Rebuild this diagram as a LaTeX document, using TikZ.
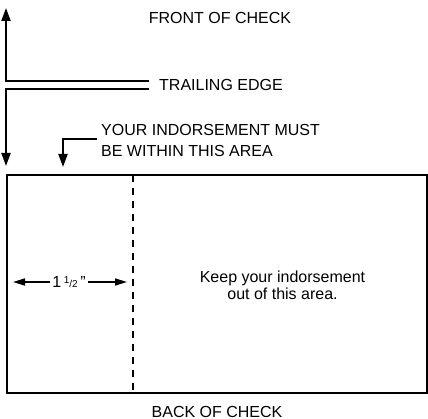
\documentclass[tikz,border=0pt]{standalone}
\usepackage{fontspec}
\setmainfont{Liberation Sans}
\usetikzlibrary{arrows.meta}
\tikzset{
  heavy/.style={line width=2pt},
  bigarrow/.style={line width=2pt,-{Triangle[length=13pt,width=9pt]}},
  dimarrow/.style={line width=1.6pt,-{Triangle[length=12pt,width=7pt]}},
  lbl/.style={font=\fontsize{16}{21}\selectfont, inner sep=0pt},
  dashline/.style={line width=1.5pt, dash pattern=on 7pt off 6pt},
}
\begin{document}
\begin{tikzpicture}[x=1pt,y=-1pt]
\useasboundingbox (0,0) rectangle (428,419);

% labels
\node[lbl, anchor=base] (front) at (220,23.5) {FRONT OF CHECK};
\node[lbl, anchor=base west] (trail) at (159,90.5) {TRAILING EDGE};
\node[lbl, anchor=base west, align=left, font=\fontsize{16}{21}\selectfont] (must) at (101,157) {YOUR INDORSEMENT MUST\\BE WITHIN THIS AREA};
\node[lbl, anchor=base] (back) at (217,417) {BACK OF CHECK};

% trailing edge arrows
\coordinate (edgeTop) at (149,81);
\coordinate (edgeBot) at (149,89);
\coordinate (upCorner) at (6,81);
\coordinate (upTip) at (6,8);
\coordinate (downCorner) at (6,89);
\coordinate (downTip) at (6,166);
\draw[bigarrow] (edgeTop) -- (upCorner) -- (upTip);
\draw[bigarrow] (edgeBot) -- (downCorner) -- (downTip);

% leader to indorsement area
\coordinate (leadStart) at (97,139);
\coordinate (leadCorner) at (63,139);
\coordinate (leadTip) at (63,167);
\draw[bigarrow] (leadStart) -- (leadCorner) -- (leadTip);

% back of check
\node[draw, heavy, anchor=north west, outer sep=0pt, minimum width=420pt, minimum height=218pt, inner sep=0pt] (check) at (7,175) {};
\coordinate (dashTop) at (133,175);
\coordinate (dashBot) at (133,393);
\draw[dashline] (dashTop) -- (dashBot);

% dimension
\node[lbl, inner sep=2pt] (dim) at (69,282) {1\,{\fontsize{10}{10}\selectfont\raisebox{4.5pt}{1}/2}\,"};
\coordinate (dimL) at (13,282);
\coordinate (dimR) at (127,282);
\draw[dimarrow] (dim.west) -- (dimL);
\draw[dimarrow] (dim.east) -- (dimR);

\node[lbl, anchor=base, align=center, font=\fontsize{16}{17}\selectfont] (keep) at (282.5,300) {Keep your indorsement\\out of this area.};
\end{tikzpicture}
\end{document}
